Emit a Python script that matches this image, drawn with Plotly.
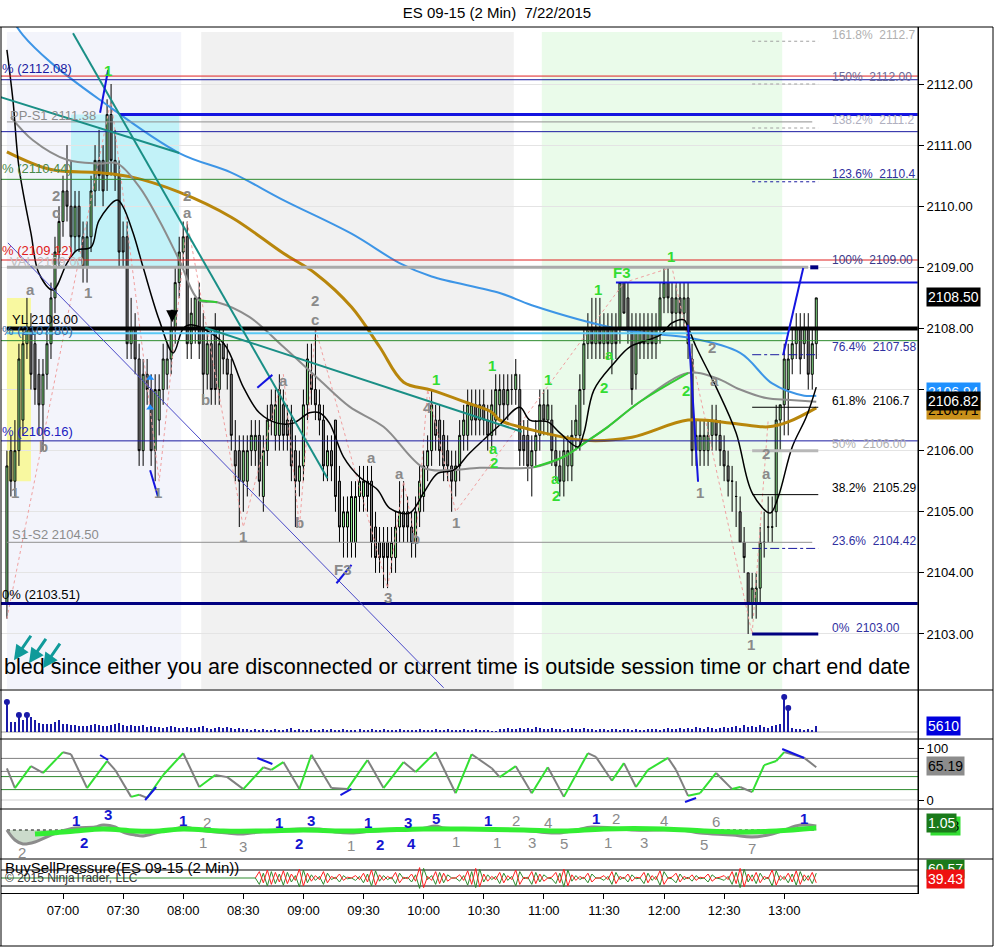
import pandas as pd
import plotly.graph_objects as go

DAY = "2015-07-22"


def T(hm):
    return f"{DAY} {hm}:00" if len(hm) == 5 else f"{DAY} {hm}"


# ---------------- price bars (2 min, from 06:32) ----------------
opens = [
    2103.50, 2106.00, 2105.50, 2106.00, 2106.50, 2107.75, 2108.00, 2107.75, 2107.25, 2106.75,
    2107.25, 2107.75, 2108.50, 2109.25, 2109.75, 2110.25, 2110.00, 2109.50, 2110.00, 2109.50,
    2109.00, 2109.50, 2110.25, 2110.75, 2110.75, 2110.50, 2111.50, 2110.75, 2110.50, 2109.50,
    2109.50, 2107.75, 2108.00, 2107.50, 2106.00, 2107.25, 2107.00, 2106.00, 2106.50, 2107.00,
    2107.25, 2107.50, 2108.00, 2108.75, 2109.25, 2109.50, 2107.75, 2108.00, 2108.50, 2108.00,
    2107.25, 2107.75, 2108.00, 2107.00, 2107.75, 2107.50, 2107.25, 2106.00, 2106.00, 2105.50,
    2105.50, 2106.00, 2106.00, 2106.25, 2105.25, 2106.00, 2106.75, 2106.25, 2106.25, 2106.75,
    2106.50, 2106.50, 2106.00, 2105.50, 2105.75, 2106.75, 2107.25, 2107.00, 2106.75, 2106.50,
    2105.75, 2106.00, 2106.50, 2105.50, 2104.75, 2104.75, 2104.50, 2104.50, 2105.25, 2105.25,
    2105.50, 2105.50, 2104.75, 2104.50, 2104.50, 2104.50, 2104.25, 2104.25, 2104.75, 2105.00,
    2105.00, 2104.75, 2104.50, 2105.00, 2105.25,
    2105.75, 2106.00, 2106.50, 2106.50, 2106.25, 2106.00, 2105.75, 2105.50, 2105.75, 2106.25,
    2106.25, 2106.50, 2106.75, 2106.50, 2106.75, 2106.50, 2106.25, 2106.50, 2106.75, 2107.00,
    2106.75, 2107.00, 2107.00, 2107.00, 2106.25, 2106.25, 2105.75, 2106.00, 2106.25, 2106.75,
    2106.50, 2106.50, 2106.00, 2105.75, 2105.50, 2105.75, 2105.75, 2106.25, 2106.25, 2107.00,
    2107.75, 2108.00, 2107.75, 2108.00, 2107.75, 2108.00, 2107.75, 2108.00,
    2108.00, 2108.75, 2108.50, 2108.00, 2107.25, 2107.75, 2108.00, 2107.75, 2108.00, 2107.75,
    2108.00, 2108.50, 2108.75, 2108.50, 2108.25, 2108.50, 2108.25, 2108.50, 2107.50, 2106.00,
    2106.00, 2106.00, 2106.00, 2106.25, 2106.50, 2106.25, 2106.00, 2105.75, 2105.50, 2105.25,
    2105.00, 2104.50, 2104.00, 2103.50, 2103.50, 2103.75, 2104.50, 2104.75, 2104.75, 2105.00,
    2106.50, 2106.75, 2107.00, 2107.50, 2107.75, 2108.00, 2107.75, 2108.00, 2107.25, 2107.75,
]
highs = [
    2106.00, 2106.25, 2106.50, 2107.75, 2108.00, 2108.50, 2108.25, 2108.00, 2107.50, 2107.50,
    2108.00, 2108.75, 2109.50, 2110.00, 2110.50, 2111.00, 2110.75, 2110.25, 2110.25, 2109.75,
    2109.75, 2110.50, 2111.00, 2111.25, 2111.00, 2111.75, 2112.00, 2111.25, 2110.75, 2109.75,
    2109.75, 2108.50, 2108.25, 2107.75, 2107.50, 2107.50, 2107.25, 2107.25, 2107.25, 2107.75,
    2107.75, 2108.25, 2109.00, 2109.50, 2109.75, 2109.75, 2108.50, 2108.50, 2108.75, 2108.25,
    2108.00, 2108.00, 2108.25, 2108.00, 2108.00, 2107.75, 2107.50, 2106.50, 2106.25, 2106.25,
    2106.25, 2106.50, 2106.50, 2106.50, 2106.25, 2106.75, 2107.00, 2107.00, 2107.25, 2107.00,
    2106.75, 2106.75, 2106.25, 2106.00, 2107.00, 2107.75, 2107.75, 2108.00, 2107.00, 2106.75,
    2106.25, 2106.25, 2106.50, 2105.75, 2105.25, 2105.25, 2105.50, 2105.50, 2105.75, 2105.75,
    2105.75, 2105.75, 2105.00, 2104.75, 2104.75, 2104.75, 2104.75, 2105.00, 2105.50, 2105.50,
    2105.25, 2105.00, 2105.25, 2105.75, 2106.00,
    2106.25, 2107.00, 2106.75, 2106.75, 2106.50, 2106.25, 2106.00, 2106.00, 2106.50, 2106.75,
    2107.00, 2107.00, 2107.00, 2107.00, 2107.00, 2106.75, 2107.00, 2107.25, 2107.25, 2107.25,
    2107.25, 2107.25, 2107.50, 2107.25, 2106.50, 2106.50, 2106.25, 2106.50, 2107.00, 2107.00,
    2107.00, 2106.75, 2106.25, 2106.00, 2106.25, 2106.25, 2106.50, 2106.75, 2107.25, 2108.00,
    2108.25, 2108.50, 2108.50, 2108.50, 2108.25, 2108.25, 2108.25, 2108.25,
    2108.75, 2108.75, 2108.75, 2108.25, 2108.25, 2108.25, 2108.25, 2108.25, 2108.25, 2108.25,
    2108.75, 2109.00, 2109.00, 2108.75, 2108.75, 2108.75, 2108.75, 2108.75, 2107.75, 2106.50,
    2106.50, 2106.50, 2106.50, 2106.75, 2106.75, 2106.50, 2106.25, 2106.00, 2105.75, 2105.50,
    2105.25, 2104.75, 2104.00, 2104.00, 2104.00, 2104.75, 2105.00, 2105.25, 2105.25, 2106.75,
    2106.75, 2107.75, 2107.75, 2108.00, 2108.25, 2108.25, 2108.25, 2108.25, 2108.00, 2108.50,
]
lows = [
    2103.25, 2105.25, 2105.25, 2105.75, 2106.25, 2107.50, 2107.00, 2106.75, 2106.25, 2106.00,
    2107.00, 2107.50, 2108.25, 2109.00, 2109.50, 2109.75, 2109.25, 2109.25, 2109.25, 2108.75,
    2108.75, 2109.25, 2110.00, 2110.25, 2110.00, 2110.25, 2110.50, 2110.25, 2109.00, 2109.00,
    2107.50, 2107.50, 2107.25, 2105.75, 2105.75, 2106.75, 2105.75, 2105.50, 2106.25, 2106.75,
    2107.00, 2107.25, 2107.75, 2108.50, 2109.00, 2107.50, 2107.50, 2107.75, 2107.50, 2106.75,
    2107.00, 2106.75, 2106.75, 2106.75, 2107.25, 2107.00, 2106.00, 2105.50, 2104.75, 2105.00,
    2105.25, 2105.75, 2105.75, 2105.25, 2105.00, 2105.75, 2106.25, 2106.00, 2106.00, 2106.00,
    2106.00, 2105.50, 2104.75, 2105.25, 2105.50, 2106.50, 2106.75, 2106.50, 2106.25, 2105.50,
    2105.50, 2105.50, 2105.00, 2104.50, 2104.25, 2104.25, 2104.25, 2104.25, 2105.00, 2105.00,
    2105.00, 2104.25, 2104.00, 2104.00, 2103.75, 2103.75, 2104.00, 2104.00, 2104.50, 2104.50,
    2104.50, 2104.25, 2104.25, 2104.75, 2105.00,
    2105.50, 2105.75, 2106.00, 2105.75, 2105.50, 2105.50, 2105.00, 2105.25, 2105.50, 2106.00,
    2106.00, 2106.25, 2106.25, 2106.25, 2106.25, 2106.00, 2106.00, 2106.25, 2106.50, 2106.50,
    2106.50, 2106.75, 2106.75, 2105.75, 2105.75, 2105.50, 2105.25, 2105.75, 2106.00, 2106.25,
    2106.25, 2105.75, 2105.50, 2105.25, 2105.25, 2105.50, 2105.50, 2106.00, 2106.00, 2106.75,
    2107.50, 2107.50, 2107.50, 2107.50, 2107.50, 2107.50, 2107.25, 2107.50,
    2107.75, 2108.25, 2107.75, 2106.75, 2107.00, 2107.50, 2107.50, 2107.50, 2107.50, 2107.50,
    2107.75, 2108.25, 2108.25, 2108.00, 2108.00, 2108.00, 2108.00, 2107.50, 2105.75, 2105.75,
    2105.75, 2105.75, 2105.75, 2106.00, 2106.00, 2105.75, 2105.50, 2105.25, 2105.00, 2104.75,
    2104.50, 2104.00, 2103.00, 2103.25, 2103.25, 2103.50, 2104.25, 2104.50, 2104.50, 2104.75,
    2106.00, 2106.25, 2106.25, 2107.25, 2107.50, 2107.25, 2107.50, 2107.00, 2107.00, 2107.50,
]
closes = [
    2105.75, 2105.50, 2106.00, 2107.50, 2107.75, 2108.00, 2107.25, 2107.00, 2106.75, 2107.25,
    2107.75, 2108.50, 2109.25, 2109.75, 2110.25, 2110.00, 2109.50, 2110.00, 2109.50, 2109.00,
    2109.50, 2110.25, 2110.75, 2110.50, 2110.25, 2111.50, 2110.75, 2110.50, 2109.25, 2109.25,
    2107.75, 2108.00, 2107.50, 2106.00, 2107.25, 2107.00, 2106.00, 2107.00, 2107.00, 2107.50,
    2107.50, 2108.00, 2108.75, 2109.25, 2109.50, 2107.75, 2108.25, 2108.50, 2107.75, 2107.25,
    2107.75, 2107.00, 2107.00, 2107.75, 2107.50, 2107.25, 2106.25, 2105.75, 2105.50, 2106.00,
    2106.00, 2106.25, 2106.25, 2105.50, 2106.00, 2106.50, 2106.50, 2106.75, 2107.00, 2106.25,
    2106.25, 2105.75, 2105.50, 2105.75, 2106.75, 2107.50, 2107.00, 2106.75, 2106.50, 2105.75,
    2106.00, 2105.75, 2105.25, 2104.75, 2105.00, 2105.00, 2105.25, 2105.25, 2105.50, 2105.50,
    2105.25, 2104.50, 2104.25, 2104.25, 2104.25, 2104.25, 2104.50, 2104.75, 2105.00, 2104.75,
    2104.75, 2104.50, 2105.00, 2105.50, 2105.75,
    2106.00, 2106.75, 2106.25, 2106.00, 2105.75, 2105.75, 2105.50, 2105.75, 2106.25, 2106.50,
    2106.75, 2106.75, 2106.50, 2106.75, 2106.50, 2106.25, 2106.75, 2107.00, 2107.00, 2106.75,
    2107.00, 2107.00, 2107.25, 2106.00, 2106.00, 2105.75, 2106.00, 2106.25, 2106.75, 2106.50,
    2106.75, 2106.00, 2105.75, 2105.50, 2106.00, 2106.00, 2106.25, 2106.50, 2107.00, 2107.75,
    2108.00, 2107.75, 2108.00, 2107.75, 2108.00, 2107.75, 2108.00, 2107.75,
    2108.75, 2108.25, 2108.00, 2107.00, 2108.00, 2108.00, 2107.75, 2108.00, 2107.75, 2108.00,
    2108.50, 2108.75, 2108.50, 2108.25, 2108.50, 2108.25, 2108.50, 2107.75, 2106.00, 2106.25,
    2106.25, 2106.25, 2106.25, 2106.50, 2106.25, 2106.00, 2105.75, 2105.50, 2105.50, 2105.25,
    2104.50, 2104.25, 2103.50, 2103.75, 2103.75, 2104.50, 2104.50, 2104.75, 2104.75, 2106.50,
    2106.75, 2107.50, 2107.50, 2107.75, 2108.00, 2107.50, 2108.00, 2107.25, 2107.75, 2108.50,
]
bar_times = pd.date_range(T("06:32"), periods=len(closes), freq="2min")

volume = [
    28200, 9400, 9400, 16000, 11300, 16000, 14100, 11300, 8500, 7500,
    7500, 7500, 9400, 11300, 7500, 7500, 6600, 6600, 5600, 5600,
    5600, 6600, 7500, 6600, 5600, 5600, 6600, 7500, 8500, 6600, 5600,
    6600, 5600, 5600, 6600, 4700, 5600, 4700, 4700, 3800, 4700,
    5600, 4700, 3800, 3800, 4700, 3800, 3800, 4700, 5600, 3800,
    2800, 3800, 4700, 3800, 4700, 3800, 2800, 3800, 2800, 2800,
    1900, 2800, 1900, 2800, 1900, 1900, 2800, 1900, 1900, 2800,
    3800, 1900, 2800, 1900, 1900, 2800, 1900, 1900, 2800, 1900,
    2800, 1900, 1900, 2800, 1900, 1900, 1900, 2800, 1900, 1900,
    2800, 1900, 1900, 2800, 1900, 1900, 1900, 2800, 1900, 1900,
    1900, 1900, 2800, 1900, 1900, 1900, 2800, 1900, 1900, 2800,
    1900, 1900, 1900, 2800, 1900, 1900, 2800, 1900, 1900, 1900,
    900, 900, 2800, 2800, 3800, 2800, 2800, 3800, 2800, 3800,
    2800, 4700, 3800, 2800, 2800, 3800, 2800, 2800, 1900, 2800,
    3800, 2800, 2800, 3800, 2800, 2800, 1900, 2800, 2800, 1900,
    2800, 2800, 1900, 2800, 2800, 1900, 2800, 1900, 1900, 2800,
    2800, 2800, 1900, 2800, 3800, 2800, 2800, 3800, 2800, 3800,
    2800, 4700, 3800, 2800, 4700, 3800, 2800, 3800, 4700, 3800,
    4700, 5600, 3800, 6600, 4700, 5600, 4700, 6600, 4700, 3800,
    5600, 6600, 7500, 32900, 22600, 3800, 2800, 2800, 1900, 2800,
    1900, 5610,
]

# ---------------- moving averages (knots) ----------------
ma_fast_t = ["06:32", "06:35", "06:38", "06:44", "06:48", "06:55", "07:02", "07:07", "07:14",
             "07:18", "07:27", "07:30", "07:35", "07:40", "07:48", "07:55", "08:00", "08:04",
             "08:20", "08:30", "08:38", "08:47", "08:55", "09:03", "09:08", "09:13", "09:20",
             "09:28", "09:37", "09:43", "09:53", "10:00", "10:07", "10:15", "10:23", "10:37",
             "10:48", "10:53", "11:02", "11:08", "11:17", "11:20", "11:25", "11:35", "11:43",
             "11:58", "12:04", "12:10", "12:12", "12:16", "12:26", "12:36", "12:44", "12:53",
             "12:57", "13:04", "13:11", "13:16"]
ma_fast_v = [2112.56, 2111.74, 2110.64, 2109.56, 2108.90, 2108.63, 2109.07, 2109.28, 2109.33,
             2109.77, 2110.10, 2109.99, 2109.56, 2109.00, 2108.14, 2107.60, 2108.00, 2108.06,
             2107.76, 2107.04, 2106.62, 2106.45, 2106.45, 2106.62, 2106.62, 2106.45, 2105.90,
             2105.57, 2105.36, 2105.06, 2104.98, 2105.31, 2105.63, 2105.68, 2105.96, 2106.39,
             2106.71, 2106.50, 2106.47, 2106.29, 2106.06, 2106.29, 2106.99, 2107.43, 2107.70,
             2107.89, 2108.09, 2108.14, 2108.02, 2107.70, 2107.04, 2106.29, 2105.31, 2104.98,
             2105.24, 2106.06, 2106.55, 2107.04]

ma_mid_t = ["06:34", "06:45", "07:02", "07:18", "07:27", "07:38", "07:48", "07:58", "08:08",
            "08:17", "08:33", "08:50", "09:08", "09:23", "09:40", "10:00", "10:13", "10:28",
            "10:55", "11:10", "11:20", "11:32", "11:48", "12:12", "12:26", "12:38", "12:51",
            "13:03", "13:16"]
ma_mid_v = [2111.46, 2111.08, 2110.76, 2110.70, 2110.70, 2110.32, 2109.77, 2109.12, 2108.46,
            2108.43, 2108.19, 2107.70, 2107.16, 2106.72, 2106.39, 2105.72, 2105.68, 2105.72,
            2105.73, 2105.90, 2106.12, 2106.39, 2106.80, 2107.27, 2107.19, 2107.00, 2106.86,
            2106.83, 2106.80]
ma_mid_rising = [("08:08", "08:17"), ("10:55", "12:12")]

ma_slow_t = ["06:32", "06:54", "07:18", "07:34", "07:58", "08:24", "08:50", "09:06", "09:24",
             "09:38", "09:50", "10:04", "10:22", "10:34", "10:38", "10:54", "11:20", "11:44",
             "12:12", "12:34", "12:52", "13:02", "13:16"]
ma_slow_v = [2110.89, 2110.60, 2110.55, 2110.48, 2110.23, 2109.82, 2109.23, 2108.90, 2108.35,
             2107.70, 2107.12, 2106.99, 2106.78, 2106.63, 2106.50, 2106.34, 2106.17, 2106.22,
             2106.50, 2106.45, 2106.39, 2106.47, 2106.70]

ma_long_t = ["06:32", "06:40", "06:54", "07:18", "07:58", "08:24", "08:50", "09:24", "09:48",
             "10:04", "10:38", "10:54", "11:36", "11:58", "12:12", "12:38", "12:54", "13:10",
             "13:16"]
ma_long_v = [2113.20, 2112.80, 2112.35, 2111.75, 2110.87, 2110.55, 2110.10, 2109.55, 2109.07,
             2108.85, 2108.58, 2108.38, 2108.00, 2107.90, 2107.85, 2107.60, 2107.10, 2106.90,
             2106.90]

zigzag_t = ["06:32", "07:24", "07:48", "08:02", "08:30", "08:50", "08:58", "09:06", "09:42",
            "09:50", "09:56", "10:02", "10:16", "11:40", "12:04", "12:44", "12:52"]
zigzag_v = [2103.25, 2111.75, 2105.50, 2109.75, 2104.75, 2107.25, 2104.75, 2108.00, 2103.75,
            2105.50, 2104.50, 2107.00, 2105.00, 2108.75, 2109.00, 2103.00, 2106.50]

# ---------------- oscillator ----------------
osc_t = ["06:32", "06:36", "06:44", "06:50", "07:00", "07:04", "07:12", "07:22", "07:26",
         "07:34", "07:38", "07:42", "07:50", "08:00", "08:08", "08:16", "08:22", "08:30",
         "08:40", "08:44", "08:50", "08:58", "09:04", "09:14", "09:22", "09:32", "09:40",
         "09:50", "09:56", "10:06", "10:16", "10:24", "10:34", "10:38", "10:46", "10:54",
         "11:02", "11:10", "11:22", "11:26", "11:34", "11:40", "11:46", "11:52", "12:02",
         "12:06", "12:12", "12:18", "12:26", "12:34", "12:38", "12:44", "12:50", "12:56",
         "13:00", "13:10", "13:16"]
osc_v = [61, 23, 65, 52, 92, 88, 23, 75, 58, 6, 10, 4, 48, 90, 25, 48, 44, 21, 63, 58, 73,
         21, 87, 23, 21, 77, 23, 73, 54, 92, 13, 88, 61, 44, 65, 13, 63, 6, 90, 83, 37, 71,
         25, 58, 81, 58, 8, 13, 52, 21, 25, 15, 67, 75, 92, 81, 63]

# ---------------- wave oscillator ----------------
wave_t = ["06:32", "06:36", "06:40", "06:46", "06:54", "06:58", "07:06", "07:16", "07:20",
          "07:26", "07:30", "07:36", "07:40", "07:48", "07:56", "08:00", "08:08", "08:22",
          "08:30", "08:38", "08:48", "08:58", "09:08", "09:16", "09:24", "09:34", "09:44",
          "09:58", "10:06", "10:10", "10:24", "10:48", "10:58", "11:08", "11:16", "11:24",
          "11:34", "11:44", "12:08", "12:18", "12:34", "12:44", "12:54", "13:00", "13:08",
          "13:16"]
wave_v = [0, -10, -14, -12, -5, -2, 2, 3, 5, 3, -2, -5, -6, -2, 1, 3, 0, -3, -4, -2, 0, 1, 1,
          -2, -3, -1, 0, 1, 4, 2, 1, 0, -2, -3, 0, 3, 2, 0, 0, -3, -5, -7, -4, 0, 5, 4]
wave_sig_t = ["06:46", "06:54", "07:06", "07:20", "07:36", "07:48", "08:00", "08:20", "08:40",
              "09:00", "09:20", "09:40", "10:00", "10:20", "10:50", "11:10", "11:30", "12:00",
              "12:20", "12:40", "12:56", "13:16"]
wave_sig_v = [-4, -3, -1, 1, -1, -1, 1, -1, -1, 0, -1, 0, 1, 1, 0, -1, 1, 1, -1, -2, -1, 2]

# ---------------- buy/sell pressure (from 08:36) ----------------
bsp_start = "08:36"
bsp_flat = 50
bsp_red = [
    50, 58, 44, 60, 42, 57, 45, 59, 43, 55, 47, 61, 40, 56, 46, 53, 48, 58, 44, 52,
    49, 55, 47, 51, 50, 53, 48, 56, 45, 60, 41, 54, 47, 52, 49, 57, 44, 51, 49,
    55, 46, 63, 38, 52, 47, 58, 43, 56, 46, 50, 50, 54, 47, 59, 42, 62, 39, 55, 46,
    52, 48, 57, 44, 53, 48, 60, 42, 51, 49, 58, 43, 55, 46, 50, 51, 57, 44, 61, 40,
    54, 47, 52, 49, 56, 45, 50, 50, 53, 48,
    58, 43, 52, 49, 55, 46, 51, 50, 57, 44, 53, 48, 59, 42, 50, 51, 56, 45, 52, 49,
    54, 47, 51, 50, 55, 46, 50, 51, 53, 48, 58, 43, 62, 39, 55, 46, 57, 44, 52, 49,
    60, 41, 53, 48, 56, 45, 59, 42, 54, 47, 57, 44,
]

time_ticks = ["07:00", "07:30", "08:00", "08:30", "09:00", "09:30", "10:00", "10:30",
              "11:00", "11:30", "12:00", "12:30", "13:00"]

# ---------------- geometry ----------------
W, H = 994, 949
ML, MR, MT, MB = 1, 76, 27, 56
PW, PH = W - ML - MR, H - MT - MB
X_LEFT, X_RIGHT = "06:29:03", "14:06:47"


def px_x(px):
    return (px - ML) / PW


def px_y(py):
    return (H - MB - py) / PH


FONT = "Liberation Sans, Arial, sans-serif"
GREY_T = "#8a8a8a"
GREEN_T = "#33dd33"

fig = go.Figure()

# candles
fig.add_trace(go.Candlestick(
    x=bar_times, open=opens, high=highs, low=lows, close=closes,
    increasing=dict(fillcolor="#90EE90", line=dict(color="black", width=1)),
    decreasing=dict(fillcolor="#808080", line=dict(color="black", width=1)),
    whiskerwidth=0, yaxis="y", hoverinfo="skip"))

# zigzag
fig.add_trace(go.Scatter(x=[T(t) for t in zigzag_t], y=zigzag_v, mode="lines",
                         line=dict(color="#f0a0a0", width=1, dash="dot"), yaxis="y"))

# MAs
fig.add_trace(go.Scatter(x=[T(t) for t in ma_long_t], y=ma_long_v, mode="lines",
                         line=dict(color="#3d95e6", width=2, shape="spline"), yaxis="y"))
fig.add_trace(go.Scatter(x=[T(t) for t in ma_slow_t], y=ma_slow_v, mode="lines",
                         line=dict(color="#b8860b", width=3, shape="spline"), yaxis="y"))
fig.add_trace(go.Scatter(x=[T(t) for t in ma_mid_t], y=ma_mid_v, mode="lines",
                         line=dict(color="#8c8c8c", width=2, shape="spline"), yaxis="y"))
for a, b in ma_mid_rising:
    xs = [T(t) for t in ma_mid_t if a <= t <= b]
    ys = [v for t, v in zip(ma_mid_t, ma_mid_v) if a <= t <= b]
    fig.add_trace(go.Scatter(x=xs, y=ys, mode="lines",
                             line=dict(color="#32cd32", width=2, shape="spline"), yaxis="y"))
fig.add_trace(go.Scatter(x=[T(t) for t in ma_fast_t], y=ma_fast_v, mode="lines",
                         line=dict(color="black", width=1.5, shape="spline"), yaxis="y"))

# small blue arrows
fig.add_trace(go.Scatter(x=[T("07:43:30"), T("07:43:30")], y=[2107.19, 2106.70], mode="markers",
                         marker=dict(symbol="triangle-up", size=7, color="#1e90ff"), yaxis="y"))

# volume
fig.add_trace(go.Bar(x=bar_times, y=volume, marker=dict(color="#1a1aa8", line=dict(width=0)),
                     width=60000, yaxis="y2"))
big = [(t, v) for t, v in zip(bar_times, volume) if v > 15000]
fig.add_trace(go.Scatter(x=[b[0] for b in big], y=[b[1] for b in big], mode="markers",
                         marker=dict(color="#1a1aa8", size=6), yaxis="y2"))

# oscillator (green rising / grey falling)
gx, gy, rx, ry = [], [], [], []
for k in range(len(osc_t) - 1):
    seg_x = [T(osc_t[k]), T(osc_t[k + 1]), None]
    seg_y = [osc_v[k], osc_v[k + 1], None]
    if osc_v[k + 1] > osc_v[k]:
        gx += seg_x; gy += seg_y
    else:
        rx += seg_x; ry += seg_y
fig.add_trace(go.Scatter(x=rx, y=ry, mode="lines", line=dict(color="#808080", width=2), yaxis="y3"))
fig.add_trace(go.Scatter(x=gx, y=gy, mode="lines", line=dict(color="#33e033", width=2), yaxis="y3"))

# wave oscillator
fig.add_trace(go.Scatter(x=[T("06:32"), T("13:16")], y=[0, 0], mode="lines",
                         line=dict(color="black", width=1, dash="dot"), yaxis="y4"))
fig.add_trace(go.Scatter(x=[T(t) for t in wave_t], y=wave_v, mode="lines", fill="tozeroy",
                         fillcolor="rgba(47,111,47,0.25)",
                         line=dict(color="#8c8c8c", width=3, shape="spline"), yaxis="y4"))
fig.add_trace(go.Scatter(x=[T(t) for t in wave_sig_t], y=wave_sig_v, mode="lines",
                         line=dict(color="#33ee33", width=5, shape="spline"), yaxis="y4"))

# buy sell pressure
bsp_times = pd.date_range(T(bsp_start), periods=len(bsp_red), freq="2min")
fig.add_trace(go.Scatter(x=bsp_times, y=[100 - v for v in bsp_red], mode="lines",
                         line=dict(color="#2e8b2e", width=1), yaxis="y5"))
fig.add_trace(go.Scatter(x=bsp_times, y=bsp_red, mode="lines",
                         line=dict(color="#ff2020", width=1), yaxis="y5"))
fig.add_trace(go.Scatter(x=[T(X_LEFT), T(bsp_start)], y=[bsp_flat, bsp_flat], mode="lines",
                         line=dict(color="#2e8b2e", width=1), yaxis="y5"))

shapes = []

# background zones (time from, time to, price lo, price hi, colour)
zones = [
    ("06:32", "07:59", 2102.1, 2112.85, "#f3f4fb"),
    ("08:09", "10:45", 2102.1, 2112.85, "#f1f1f1"),
    ("10:59", "12:59", 2102.1, 2112.85, "#eafbea"),
    ("07:04", "07:58", 2109.0, 2111.5, "#c2f2f8"),
    ("06:32", "06:44", 2105.5, 2108.5, "#f8f8a0"),
]
for a, b, lo, hi, c in zones:
    shapes.append(dict(type="rect", xref="x", yref="y", x0=T(a), x1=T(b), y0=lo, y1=hi,
                       fillcolor=c, line=dict(width=0), layer="below"))

# price levels (price, from, to, colour, width)
levels = [
    (2112.13, None, None, "#e02020", 1),
    (2112.07, None, None, "#1a1aa0", 1),
    (2111.50, "07:28", None, "#1414e0", 3),
    (2111.38, "06:32", "13:14", "#909090", 1),
    (2111.22, None, None, "#1a1aa0", 1),
    (2110.44, None, None, "#2e8b2e", 1),
    (2109.12, None, None, "#e02020", 1),
    (2109.00, "06:32", "13:12", "#aaaaaa", 3),
    (2108.75, "11:36", None, "#1414e0", 2),
    (2107.92, "06:32", "13:02", "#5ac8f5", 2),
    (2108.00, "06:32", None, "black", 4),
    (2107.80, None, None, "#2e8b2e", 1),
    (2106.16, None, None, "#1a1aa0", 1),
    (2104.50, "06:32", "13:14", "#909090", 1),
    (2103.50, None, None, "#000080", 3),
]
for p, a, b, c, w in levels:
    shapes.append(dict(type="line", xref="x", yref="y",
                       x0=T(a) if a else T(X_LEFT), x1=T(b) if b else T("14:06:40"),
                       y0=p, y1=p, line=dict(color=c, width=w), layer="above"))

# fib short lines
fib_lines = [
    (2112.70, "#a0a0a0", 1, "dot"), (2112.00, "#a0a0a0", 1, "dot"), (2111.28, "#a0a0a0", 1, "dot"),
    (2110.40, "#1a1aa0", 1, "dot"), (2107.57, "#1a1aa0", 1, "dashdot"), (2106.71, "black", 1, "solid"),
    (2106.00, "#b8b8b8", 3, "solid"), (2105.28, "black", 1, "solid"), (2104.40, "#1a1aa0", 1, "dashdot"),
    (2103.00, "#000080", 3, "solid"),
]
for p, c, w, d in fib_lines:
    shapes.append(dict(type="line", xref="x", yref="y", x0=T("12:44"), x1=T("13:17"), y0=p, y1=p,
                       line=dict(color=c, width=w, dash=d), layer="above"))

# trend lines (t0, p0, t1, p1, colour, width)
trends = [
    ("07:05", 2112.83, "09:12", 2105.55, "#1a8f86", 2),
    ("06:28:30", 2111.79, "07:58", 2110.87, "#1a8f86", 2),
    ("08:11", 2108.01, "10:49", 2106.31, "#1a8f86", 2),
    ("06:32:30", 2109.40, "10:10", 2102.12, "#4a4ac8", 1),
    ("07:18:30", 2111.53, "07:22:30", 2112.23, "#1414e0", 2),
    ("07:43:30", 2105.68, "07:47:30", 2105.24, "#1414e0", 2),
    ("08:37", 2107.03, "08:44:30", 2107.24, "#1414e0", 2),
    ("09:16:30", 2103.83, "09:24", 2104.13, "#1414e0", 2),
    ("12:12", 2108.06, "12:17", 2105.49, "#1414e0", 2),
    ("12:59:30", 2107.57, "13:09:30", 2108.99, "#1414e0", 2),
    ("13:13", 2109.00, "13:17", 2109.00, "#000080", 4),
]
for a, p0, b, p1, c, w in trends:
    shapes.append(dict(type="line", xref="x", yref="y", x0=T(a), x1=T(b), y0=p0, y1=p1,
                       line=dict(color=c, width=w), layer="above"))

# oscillator levels and slope marks
for v, c in [(80, "#808080"), (55, "#808080"), (45, "#2e8b2e"), (20, "#2e8b2e"), (0, "#d0d0d0")]:
    shapes.append(dict(type="line", xref="paper", yref="y3", x0=0, x1=1, y0=v, y1=v,
                       line=dict(color=c, width=1), layer="below"))
osc_marks = [("07:18:30", 86.5, "07:22:30", 76.9), ("07:41", 0, "07:46:30", 25),
             ("08:37", 80.8, "08:44:30", 69.2), ("09:18:30", 9.6, "09:24", 21.2),
             ("12:10:30", -3.8, "12:16", 3.8), ("12:59", 98, "13:10", 80.8)]
for a, v0, b, v1 in osc_marks:
    shapes.append(dict(type="line", xref="x", yref="y3", x0=T(a), x1=T(b), y0=v0, y1=v1,
                       line=dict(color="#1414e0", width=2), layer="above"))

shapes.append(dict(type="line", xref="paper", yref="y2", x0=0, x1=1, y0=0, y1=0,
                   line=dict(color="#a0a0a0", width=1), layer="below"))
for v in (60, 40):
    shapes.append(dict(type="line", xref="paper", yref="y5", x0=0, x1=1, y0=v, y1=v,
                       line=dict(color="black", width=1), layer="below"))

# frame / separators
for py in (27, 690, 739, 809, 859, 946):
    shapes.append(dict(type="line", xref="paper", yref="paper", x0=px_x(0), x1=px_x(993),
                       y0=px_y(py), y1=px_y(py), line=dict(color="black", width=1)))
for pxv, top, bot in ((1, 27, 946), (993, 27, 946), (918, 27, 893)):
    shapes.append(dict(type="line", xref="paper", yref="paper", x0=px_x(pxv), x1=px_x(pxv),
                       y0=px_y(top), y1=px_y(bot), line=dict(color="black", width=1)))

ann = []

# wave labels on the price panel
price_labels = [
    ("1", "06:36", 2105.32, GREY_T), ("a", "06:44", 2108.63, GREY_T), ("b", "06:50:30", 2106.06, GREY_T),
    ("2", "06:56:30", 2110.18, GREY_T), ("c", "06:56:30", 2109.89, GREY_T), ("1", "07:12:30", 2108.58, GREY_T),
    ("1", "07:47:30", 2105.32, GREY_T), ("2", "08:02", 2110.18, GREY_T), ("a", "08:02", 2109.89, GREY_T),
    ("b", "08:11", 2106.83, GREY_T), ("1", "08:30", 2104.59, GREY_T), ("a", "08:50", 2107.14, GREY_T),
    ("b", "08:58", 2104.83, GREY_T), ("2", "09:06", 2108.45, GREY_T), ("c", "09:06", 2108.14, GREY_T),
    ("F3", "09:20", 2104.05, GREY_T), ("a", "09:34", 2105.88, GREY_T), ("3", "09:42", 2103.59, GREY_T),
    ("a", "09:48", 2105.63, GREY_T), ("b", "09:56", 2104.57, GREY_T), ("4", "10:02", 2106.70, GREY_T),
    ("1", "10:16", 2104.82, GREY_T), ("2", "12:24", 2107.68, GREY_T), ("a", "12:25", 2107.14, GREY_T),
    ("1", "12:18", 2105.32, GREY_T), ("2", "12:51", 2105.95, GREY_T), ("a", "12:51", 2105.62, GREY_T),
    ("1", "12:43:30", 2102.82, GREY_T),
    ("1", "07:22:30", 2112.22, GREEN_T), ("1", "10:06", 2107.16, GREEN_T), ("1", "10:34", 2107.40, GREEN_T),
    ("a", "10:35", 2106.04, GREEN_T), ("2", "10:35", 2105.80, GREEN_T), ("1", "11:02", 2107.16, GREEN_T),
    ("a", "11:06", 2105.55, GREEN_T), ("2", "11:06", 2105.27, GREEN_T), ("1", "11:27", 2108.63, GREEN_T),
    ("F3", "11:39", 2108.91, GREEN_T), ("a", "11:33", 2107.58, GREEN_T), ("2", "11:30", 2107.03, GREEN_T),
    ("1", "12:03:30", 2109.17, GREEN_T), ("2", "12:11", 2106.99, GREEN_T),
]
for txt, t, p, c in price_labels:
    ann.append(dict(x=T(t), y=p, xref="x", yref="y", text=f"<b>{txt}</b>", showarrow=False,
                    font=dict(family=FONT, size=15, color=c)))

# level labels on the left edge (text, price, colour, left px)
level_labels = [
    ("% (2112.08)", 2112.25, "#1a1aa0", 0), ("PP-S1 2111.38", 2111.49, "#8c8c8c", 8),
    ("% (2110.44)", 2110.61, "#4a8a4a", 0), ("% (2109.12)", 2109.28, "#e02020", 0),
    ("VAL 2109.00", 2109.09, "#c0c0c0", 8), ("YL 2108.00", 2108.14, "black", 10),
    ("% (2107.80)", 2107.96, "#3a6aa0", 0), ("% (2106.16)", 2106.31, "#2020c0", 0),
    ("S1-S2 2104.50", 2104.62, "#8c8c8c", 10), ("0% (2103.51)", 2103.64, "black", 0),
]
for txt, p, c, lx in level_labels:
    ann.append(dict(x=px_x(lx), y=p, xref="paper", yref="y", xanchor="left", text=txt,
                    showarrow=False, font=dict(family=FONT, size=13, color=c)))

# fib labels at the right
fib_labels = [
    ("161.8%  2112.7", 2112.80, "#b0b0b0"), ("150%  2112.00", 2112.11, "#6a6a9a"),
    ("138.2%  2111.2", 2111.41, "#b0b0c0"), ("123.6%  2110.4", 2110.53, "#3030a0"),
    ("100%  2109.00", 2109.12, "#3a3a8a"), ("76.4%  2107.58", 2107.70, "#3030a0"),
    ("61.8%  2106.7", 2106.81, "black"), ("50%  2106.00", 2106.11, "#b0b0b0"),
    ("38.2%  2105.29", 2105.39, "black"), ("23.6%  2104.42", 2104.52, "#3030a0"),
    ("0%  2103.00", 2103.10, "#3030a0"),
]
for txt, p, c in fib_labels:
    ann.append(dict(x=T("13:23"), y=p, xref="x", yref="y", xanchor="left", text=txt,
                    showarrow=False, font=dict(family=FONT, size=12, color=c)))

# right-axis value boxes (text, axis, value, left px, bg, fg)
value_boxes = [
    ("2106.94", "y", 2106.96, 926, "#1e90ff", "white"), ("2106.71", "y", 2106.66, 926, "#c8901a", "black"),
    ("2106.82", "y", 2106.82, 926, "black", "white"), ("2108.50", "y", 2108.51, 926, "black", "white"),
    ("5610", "y2", 5610, 926, "#0000dd", "white"), ("65.19", "y3", 65.19, 926, "#8c8c8c", "black"),
    ("1.08", "y4", 4.5, 930, "#33dd33", "black"), ("1.05", "y4", 7.0, 926, "#1a7a1a", "white"),
    ("60.57", "y5", 61.5, 926, "#1a7a1a", "white"), ("39.43", "y5", 48.5, 926, "#ee1111", "white"),
]
for txt, ax, v, lx, bg, fg in value_boxes:
    ann.append(dict(x=px_x(lx), y=v, xref="paper", yref=ax, xanchor="left", text=txt,
                    showarrow=False, bgcolor=bg, borderpad=1,
                    font=dict(family=FONT, size=14, color=fg)))

# wave-oscillator counts
wave_labels = [
    ("1", "07:06:30", 10, "b"), ("3", "07:22:30", 16, "b"), ("2", "07:10:30", -12, "b"),
    ("1", "08:00", 10, "b"), ("2", "08:12", 8, "g"), ("1", "08:10", -12, "g"),
    ("3", "08:30", -16, "g"), ("1", "08:48", 8, "b"), ("3", "09:04", 10, "b"),
    ("2", "08:58", -13, "b"), ("1", "09:24", -15, "g"), ("1", "09:32", 8, "b"),
    ("2", "09:38", -14, "b"), ("3", "09:52", 8, "b"), ("4", "09:54", -13, "b"),
    ("5", "10:06", 12, "b"), ("1", "10:16", -11, "g"), ("1", "10:32", 10, "b"),
    ("1", "10:36:30", -12, "g"), ("2", "10:46", 10, "g"), ("3", "10:54", -12, "g"),
    ("4", "11:02", 8, "g"), ("5", "11:10", -13, "g"), ("1", "11:26", 12, "b"),
    ("2", "11:36", 12, "g"), ("1", "11:32", -12, "g"), ("3", "11:50", -12, "g"),
    ("4", "12:00", 10, "g"), ("6", "12:26", 9, "g"), ("5", "12:20", -14, "g"),
    ("7", "12:44", -18, "g"), ("1", "13:10", 12, "b"), ("2", "06:39:30", -22, "g"),
]
for txt, t, v, c in wave_labels:
    col = "#1515d0" if c == "b" else GREY_T
    ann.append(dict(x=T(t), y=v, xref="x", yref="y4", text=f"<b>{txt}</b>" if c == "b" else txt,
                    showarrow=False, font=dict(family=FONT, size=15, color=col)))

# misc texts
ann.append(dict(x=px_x(2), y=2102.46, xref="paper", yref="y", xanchor="left",
                text="bled since either you are disconnected or current time is outside session time or chart end date",
                showarrow=False, font=dict(family=FONT, size=21.6, color="black")))
ann.append(dict(x=px_x(3), y=px_y(878), xref="paper", yref="paper", xanchor="left",
                text="BuySellPressure(ES 09-15 (2 Min))", showarrow=False,
                font=dict(family=FONT, size=15, color="black")))
ann.append(dict(x=px_x(3), y=px_y(887), xref="paper", yref="paper", xanchor="left",
                text="© 2015 NinjaTrader, LLC", showarrow=False,
                font=dict(family=FONT, size=12, color="#333333")))

# arrows
for t, p in [("06:35:30", 2102.57), ("06:43", 2102.52), ("06:50", 2102.44)]:
    ann.append(dict(x=T(t), y=p, xref="x", yref="y", ax=18, ay=-26, showarrow=True,
                    arrowhead=2, arrowsize=1, arrowwidth=3, arrowcolor="#109a9a", text=""))
ann.append(dict(x=T("07:54:30"), y=2108.10, xref="x", yref="y", ax=0, ay=-14, showarrow=True,
                arrowhead=2, arrowsize=0.8, arrowwidth=3, arrowcolor="black", text=""))

fig.update_layout(
    width=W, height=H, margin=dict(l=ML, r=MR, t=MT, b=MB),
    paper_bgcolor="white", plot_bgcolor="white", showlegend=False,
    title=dict(text="ES 09-15 (2 Min)\u00a0\u00a07/22/2015", x=0.5, xanchor="center",
               y=1 - 13 / H, yanchor="middle", font=dict(family=FONT, size=15, color="black")),
    font=dict(family=FONT, size=13, color="black"),
    shapes=shapes, annotations=ann, bargap=0,
    xaxis=dict(type="date", range=[T(X_LEFT), T(X_RIGHT)], anchor="y5",
               rangeslider=dict(visible=False), tickvals=[T(t) for t in time_ticks],
               ticktext=time_ticks, ticks="outside", ticklen=5, tickcolor="black",
               showgrid=False, showline=True, linecolor="black", zeroline=False,
               tickfont=dict(family=FONT, size=13)),
    yaxis=dict(domain=[px_y(690), 1], range=[2102.083, 2112.933], side="right", anchor="x",
               tickvals=list(range(2103, 2113)), ticktext=[f"{v}.00" for v in range(2103, 2113)],
               ticks="outside", ticklen=5, tickcolor="black", showgrid=True, gridcolor="#e4e4e4",
               showline=True, linecolor="black", zeroline=False, tickfont=dict(family=FONT, size=13)),
    yaxis2=dict(domain=[px_y(739), px_y(690)], range=[-6580, 39480], side="right", anchor="x",
                showticklabels=False, ticks="", showgrid=False, zeroline=False,
                showline=True, linecolor="black"),
    yaxis3=dict(domain=[px_y(809), px_y(739)], range=[-17.3, 117.3], side="right", anchor="x",
                tickvals=[0, 100], ticks="outside", ticklen=5, tickcolor="black", showgrid=False,
                zeroline=False, showline=True, linecolor="black", tickfont=dict(family=FONT, size=13)),
    yaxis4=dict(domain=[px_y(859), px_y(809)], range=[-29, 21], side="right", anchor="x",
                showticklabels=False, ticks="", showgrid=False, zeroline=False,
                showline=True, linecolor="black"),
    yaxis5=dict(domain=[0, px_y(859)], range=[31.25, 73.75], side="right", anchor="x",
                showticklabels=False, ticks="", showgrid=False, zeroline=False,
                showline=True, linecolor="black"),
)

fig.write_html("out.html", config={"displayModeBar": False},
               post_script="document.body.style.margin='0';document.body.style.overflow='hidden';")
